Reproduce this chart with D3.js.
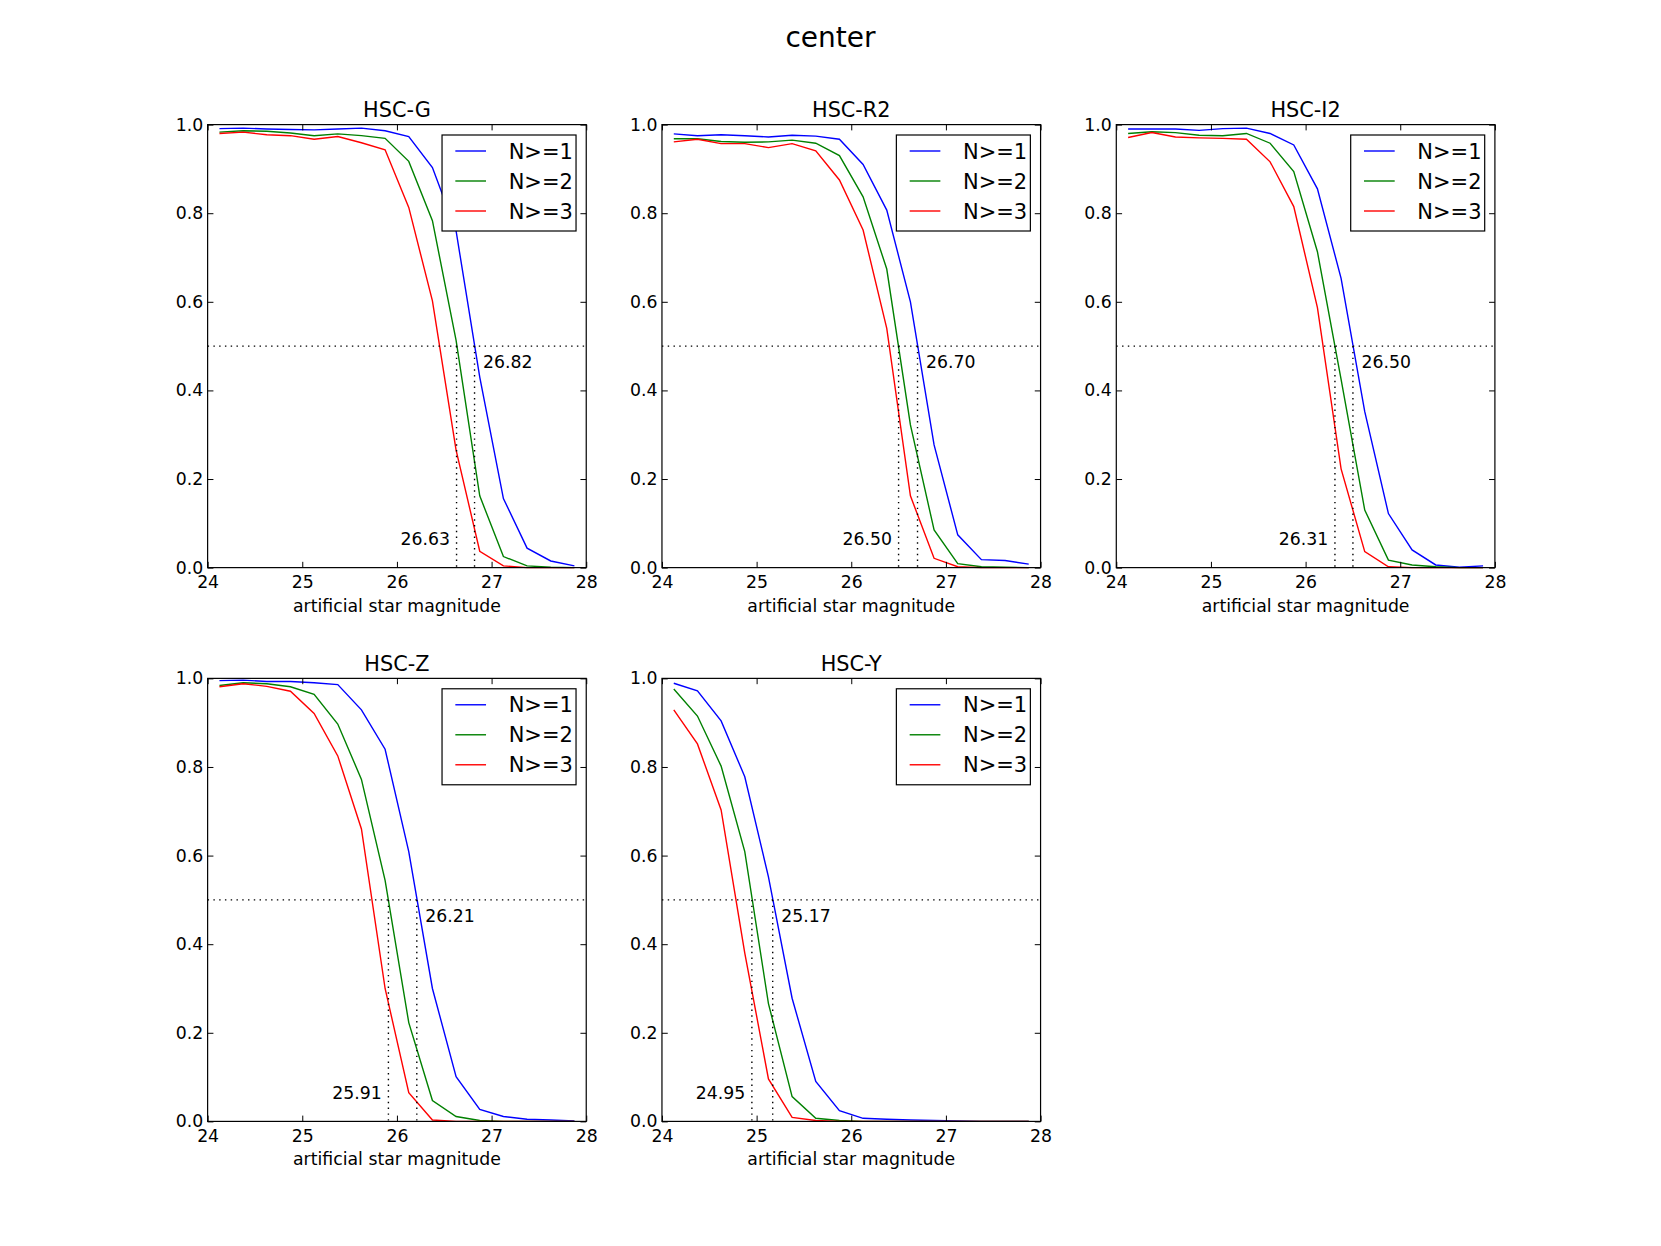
<!DOCTYPE html>
<html>
<head>
<meta charset="utf-8">
<script src="https://cdn.jsdelivr.net/npm/d3@7"></script>
<style>
  body { margin: 0; background: #fff; }
  text { font-family: "DejaVu Sans", sans-serif; fill: #000; }
</style>
</head>
<body>
<div class="mainDiv"></div>
<script>
const W = 1661, H = 1246;

// artificial star magnitude bins
const mags = [24.125, 24.375, 24.625, 24.875, 25.125, 25.375, 25.625, 25.875,
              26.125, 26.375, 26.625, 26.875, 27.125, 27.375, 27.625, 27.875];

const bands = ["HSC-G", "HSC-R2", "HSC-I2", "HSC-Z", "HSC-Y"];
const seriesNames = ["N>=1", "N>=2", "N>=3"];
const colors = ["#0000ff", "#008000", "#ff0000"];

// completeness per band (N>=1, N>=2, N>=3)
const gN1 = [0.991, 0.992, 0.990, 0.989, 0.988, 0.990, 0.992, 0.986, 0.973, 0.903, 0.76, 0.43, 0.156, 0.044, 0.015, 0.004];
const gN2 = [0.983, 0.986, 0.985, 0.981, 0.975, 0.979, 0.975, 0.969, 0.917, 0.783, 0.513, 0.162, 0.025, 0.004, 0.001, 0.0];
const gN3 = [0.980, 0.983, 0.977, 0.975, 0.967, 0.973, 0.959, 0.943, 0.813, 0.602, 0.265, 0.037, 0.004, 0.0, 0.0, 0.0];

const r2N1 = [0.979, 0.975, 0.977, 0.975, 0.972, 0.976, 0.974, 0.967, 0.910, 0.807, 0.600, 0.277, 0.074, 0.018, 0.016, 0.008];
const r2N2 = [0.968, 0.968, 0.962, 0.960, 0.961, 0.965, 0.958, 0.930, 0.837, 0.674, 0.322, 0.085, 0.009, 0.002, 0.001, 0.0];
const r2N3 = [0.961, 0.967, 0.957, 0.957, 0.948, 0.957, 0.941, 0.875, 0.762, 0.540, 0.162, 0.021, 0.002, 0.0, 0.0, 0.0];

const i2N1 = [0.990, 0.990, 0.990, 0.987, 0.991, 0.992, 0.980, 0.954, 0.855, 0.653, 0.352, 0.122, 0.040, 0.006, 0.001, 0.004];
const i2N2 = [0.980, 0.984, 0.982, 0.976, 0.975, 0.980, 0.958, 0.894, 0.713, 0.425, 0.130, 0.017, 0.006, 0.002, 0.0, 0.0];
const i2N3 = [0.971, 0.982, 0.972, 0.970, 0.969, 0.967, 0.916, 0.815, 0.587, 0.223, 0.036, 0.002, 0.0, 0.0, 0.0, 0.0];

const zN1 = [0.995, 0.996, 0.993, 0.993, 0.990, 0.986, 0.929, 0.840, 0.609, 0.300, 0.101, 0.027, 0.011, 0.005, 0.003, 0.001];
const zN2 = [0.984, 0.990, 0.988, 0.981, 0.964, 0.897, 0.772, 0.544, 0.223, 0.047, 0.011, 0.002, 0.0, 0.0, 0.0, 0.0];
const zN3 = [0.981, 0.988, 0.982, 0.971, 0.921, 0.825, 0.660, 0.300, 0.065, 0.003, 0.0, 0.0, 0.0, 0.0, 0.0, 0.0];

const yN1 = [0.989, 0.972, 0.904, 0.778, 0.552, 0.278, 0.090, 0.024, 0.007, 0.005, 0.003, 0.002, 0.001, 0.0, 0.0, 0.0];
const yN2 = [0.976, 0.915, 0.802, 0.609, 0.266, 0.056, 0.007, 0.002, 0.0, 0.0, 0.0, 0.0, 0.0, 0.0, 0.0, 0.0];
const yN3 = [0.929, 0.852, 0.703, 0.38, 0.096, 0.009, 0.002, 0.0, 0.0, 0.0, 0.0, 0.0, 0.0, 0.0, 0.0, 0.0];

// 50% completeness magnitudes (N>=1 and N>=2)
const mag50N1 = [26.82, 26.70, 26.50, 26.21, 25.17];
const mag50N2 = [26.63, 26.50, 26.31, 25.91, 24.95];

const xTicks = [24, 25, 26, 27, 28];
const yTicks = [0.0, 0.2, 0.4, 0.6, 0.8, 1.0];

const bandSeries = [
  [gN1, gN2, gN3],
  [r2N1, r2N2, r2N3],
  [i2N1, i2N2, i2N3],
  [zN1, zN2, zN3],
  [yN1, yN2, yN3]
];

// matplotlib-like subplot grid
const gridLeft = 0.125 * W, gridRight = 0.9 * W, gridTop = 0.1 * H, gridBottom = 0.9 * H;
const cols = 3, rows = 2, wspace = 0.2, hspace = 0.25;
const aw = (gridRight - gridLeft) / (cols + wspace * (cols - 1));
const ah = (gridBottom - gridTop) / (rows + hspace * (rows - 1));

const svg = d3.select(".mainDiv").append("svg")
  .attr("width", W).attr("height", H);

svg.append("rect").attr("width", W).attr("height", H).attr("fill", "#fff");

svg.append("text")
  .attr("x", W / 2).attr("y", 47)
  .attr("text-anchor", "middle")
  .attr("font-size", 28)
  .text("center");

const tickFont = 17.3;
const tickLen = 5.8;
const dotted = "1.44,4.33";

bands.forEach((band, b) => {
  const r = Math.floor(b / cols), c = b % cols;
  const x0 = gridLeft + c * aw * (1 + wspace);
  const y0 = gridTop + r * ah * (1 + hspace);

  const x = d3.scaleLinear().domain([24, 28]).range([0, aw]);
  const y = d3.scaleLinear().domain([0, 1]).range([ah, 0]);

  const g = svg.append("g").attr("transform", `translate(${x0},${y0})`);

  const line = d3.line().x((d, i) => x(mags[i])).y(d => y(d));

  bandSeries[b].forEach((vals, s) => {
    g.append("path")
      .datum(vals)
      .attr("d", line)
      .attr("fill", "none")
      .attr("stroke", colors[s])
      .attr("stroke-width", 1.4);
  });

  // 50% line
  g.append("line")
    .attr("x1", 0).attr("x2", aw)
    .attr("y1", y(0.5)).attr("y2", y(0.5))
    .attr("stroke", "#000").attr("stroke-width", 1.4)
    .attr("stroke-dasharray", dotted);

  [mag50N1[b], mag50N2[b]].forEach(m => {
    g.append("line")
      .attr("x1", x(m)).attr("x2", x(m))
      .attr("y1", y(0.5)).attr("y2", y(0))
      .attr("stroke", "#000").attr("stroke-width", 1.4)
      .attr("stroke-dasharray", dotted);
  });

  g.append("text")
    .attr("x", x(mag50N1[b] + 0.09)).attr("y", y(0.45))
    .attr("font-size", tickFont)
    .text(mag50N1[b].toFixed(2));

  g.append("text")
    .attr("x", x(mag50N2[b] - 0.07)).attr("y", y(0.05))
    .attr("text-anchor", "end")
    .attr("font-size", tickFont)
    .text(mag50N2[b].toFixed(2));

  // axes, ticks pointing inward on all sides
  const axB = g.append("g").attr("transform", `translate(0,${ah})`)
    .call(d3.axisBottom(x).tickValues(xTicks).tickFormat(d3.format("d"))
      .tickSizeInner(-tickLen).tickSizeOuter(0).tickPadding(8.4));
  const axT = g.append("g")
    .call(d3.axisTop(x).tickValues(xTicks).tickFormat("")
      .tickSizeInner(-tickLen).tickSizeOuter(0));
  const axL = g.append("g")
    .call(d3.axisLeft(y).tickValues(yTicks).tickFormat(d3.format(".1f"))
      .tickSizeInner(-tickLen).tickSizeOuter(0).tickPadding(4.5));
  const axR = g.append("g").attr("transform", `translate(${aw},0)`)
    .call(d3.axisRight(y).tickValues(yTicks).tickFormat("")
      .tickSizeInner(-tickLen).tickSizeOuter(0));

  [axB, axT, axL, axR].forEach(a => {
    a.select(".domain").remove();
    a.selectAll(".tick line").attr("stroke", "#000").attr("stroke-width", 1);
    a.selectAll(".tick text")
      .attr("font-family", "DejaVu Sans")
      .attr("font-size", tickFont)
      .attr("fill", "#000");
  });

  g.append("rect")
    .attr("width", aw).attr("height", ah)
    .attr("fill", "none").attr("stroke", "#000").attr("stroke-width", 1.2);

  g.append("text")
    .attr("x", aw / 2).attr("y", -7.3)
    .attr("text-anchor", "middle")
    .attr("font-size", 20.8)
    .text(band);

  g.append("text")
    .attr("x", aw / 2).attr("y", ah + 44)
    .attr("text-anchor", "middle")
    .attr("font-size", tickFont)
    .text("artificial star magnitude");

  // legend
  const lw = 134, lh = 96;
  const lg = g.append("g").attr("transform", `translate(${aw - 10.2 - lw},10.4)`);
  lg.append("rect")
    .attr("width", lw).attr("height", lh)
    .attr("fill", "#fff").attr("stroke", "#000").attr("stroke-width", 1.2);
  seriesNames.forEach((name, s) => {
    const ly = 16 + s * 30;
    lg.append("line")
      .attr("x1", 13.3).attr("x2", 44)
      .attr("y1", ly).attr("y2", ly)
      .attr("stroke", colors[s]).attr("stroke-width", 1.4);
    lg.append("text")
      .attr("x", 66.6).attr("y", ly + 7.6)
      .attr("font-size", 21)
      .text(name);
  });
});
</script>
</body>
</html>
